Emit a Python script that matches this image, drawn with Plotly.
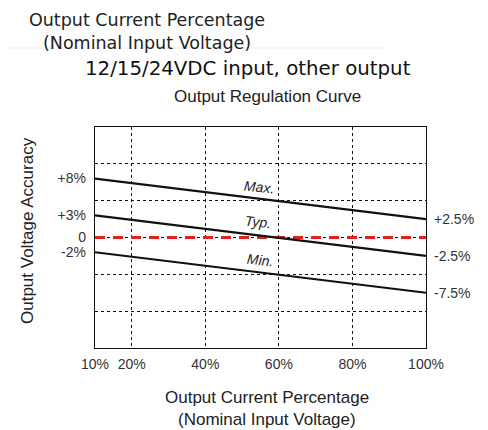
import plotly.graph_objects as go

# ---------------------------------------------------------------------------
# Data
# ---------------------------------------------------------------------------
load_pct = [10, 100]                 # output current, % of nominal
max_curve = [8.0, 2.5]               # output voltage accuracy, %
typ_curve = [3.0, -2.5]
min_curve = [-2.0, -7.5]
nominal = [0.0, 0.0]

x_ticks = [10, 20, 40, 60, 80, 100]
x_ticktext = ['10%', '20%', '40%', '60%', '80%', '100%']
left_ticks = [8, 3, 0, -2]
left_ticktext = ['+8%', '+3%', '0', '-2%']
right_ticks = [2.5, -2.5, -7.5]
right_ticktext = ['+2.5%', '-2.5%', '-7.5%']
grid_y = [-10, -5, 0, 5, 10]

curve_names = ['Max.', 'Typ.', 'Min.']
label_pos = [(54.6, 6.8), (54.4, 2.1), (54.9, -3.1)]

# ---------------------------------------------------------------------------
# page has an 8px body margin, so the figure is 8px smaller than the window
OFF = 8
W, H = 488 - OFF, 430 - OFF
L, R, T, B = 95 - OFF, 62, 127 - OFF, 82
pw, ph = W - L - R, H - T - B


def px(x):  # window pixel x -> paper x
    return (x - OFF - L) / pw


def py(y):  # window pixel y -> paper y
    return (H - B - (y - OFF)) / ph


ARIAL = 'Liberation Sans, Arial, sans-serif'
GOTHIC = 'DejaVu Sans, sans-serif'
INK = '#222222'

fig = go.Figure()

fig.add_trace(go.Scatter(
    x=load_pct, y=nominal, mode='lines',
    line=dict(color='#e3201b', width=3, dash='10px,8px'),
    hoverinfo='skip', showlegend=False,
))
for ys in (max_curve, typ_curve, min_curve):
    fig.add_trace(go.Scatter(
        x=load_pct, y=ys, mode='lines',
        line=dict(color='#111111', width=2.2),
        showlegend=False,
    ))
# empty traces so the two label axes get drawn
for ax in ('y2', 'y3'):
    fig.add_trace(go.Scatter(x=[None], y=[None], yaxis=ax, showlegend=False,
                             hoverinfo='skip'))

for name, (lx, ly) in zip(curve_names, label_pos):
    fig.add_annotation(x=lx, y=ly, xref='x', yref='y', text=name,
                       showarrow=False, textangle=6,
                       font=dict(family=ARIAL, size=14, color=INK, style='italic'))

axis_common = dict(range=[-15, 15], fixedrange=True)

fig.update_layout(
    width=W, height=H,
    margin=dict(l=L, r=R, t=T, b=B, pad=0),
    paper_bgcolor='white', plot_bgcolor='white',
    xaxis=dict(
        range=[10, 100], tickmode='array', tickvals=x_ticks, ticktext=x_ticktext,
        showgrid=True, gridcolor='#111111', griddash='dot', gridwidth=1,
        showline=True, mirror=True, linecolor='#111111', linewidth=1,
        zeroline=False, ticks='', ticklabelstandoff=3,
        tickfont=dict(family=ARIAL, size=14, color='#333333'),
    ),
    yaxis=dict(
        **axis_common, tickmode='array', tickvals=grid_y, showticklabels=False,
        showgrid=True, gridcolor='#111111', griddash='dot', gridwidth=1,
        showline=True, mirror=True, linecolor='#111111', linewidth=1,
        zeroline=False, ticks='',
    ),
    yaxis2=dict(
        **axis_common, overlaying='y', side='right', anchor='x',
        tickmode='array', tickvals=right_ticks, ticktext=right_ticktext,
        showgrid=False, zeroline=False, ticks='', ticklabelstandoff=7,
        tickfont=dict(family=ARIAL, size=14, color='#333333'),
    ),
    yaxis3=dict(
        **axis_common, overlaying='y', side='left', anchor='x',
        tickmode='array', tickvals=left_ticks, ticktext=left_ticktext,
        showgrid=False, zeroline=False, ticks='', ticklabelstandoff=8,
        tickfont=dict(family=ARIAL, size=14, color='#333333'),
    ),
)

# top-left heading, pinned to the top edge of the figure
fig.add_annotation(x=px(147), y=1 + (T) / ph, xref='paper', yref='paper',
                   xanchor='center', yanchor='top', showarrow=False,
                   text='Output Current Percentage<br>(Nominal Input Voltage)',
                   font=dict(family=GOTHIC, size=17.5, color=INK))

# other headings and axis titles (window pixel centres)
texts = [
    ('12/15/24VDC input, other output', 248, 68, GOTHIC, 19.8, '#111111', 0),
    ('Output Regulation Curve', 267, 96, ARIAL, 17, INK, 0),
    ('Output Current Percentage', 267, 397, ARIAL, 17, INK, 0),
    ('(Nominal Input Voltage)', 267, 419, ARIAL, 17, INK, 0),
    ('Output Voltage Accuracy', 27, 231, ARIAL, 17, INK, -90),
]
for txt, cx, cy, fam, size, col, ang in texts:
    fig.add_annotation(x=px(cx), y=py(cy), xref='paper', yref='paper',
                       xanchor='center', yanchor='middle', text=txt,
                       showarrow=False, textangle=ang,
                       font=dict(family=fam, size=size, color=col))

# faint separator under the top heading
fig.add_shape(type='line', xref='paper', yref='paper',
              x0=px(OFF), x1=px(383), y0=py(48), y1=py(48),
              line=dict(color='#eeeeee', width=1))

fig.write_html('out.html')
